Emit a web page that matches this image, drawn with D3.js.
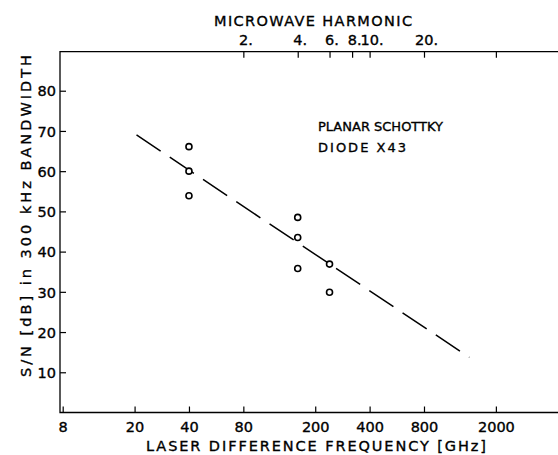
<!DOCTYPE html>
<html>
<head>
<meta charset="utf-8">
<script src="https://cdn.jsdelivr.net/npm/d3@7"></script>
<style>
  html, body { margin: 0; padding: 0; background: #fff; }
  svg { display: block; }
  text { font-family: "DejaVu Sans", sans-serif; fill: #000; stroke: #000; stroke-width: 0.35px; }
</style>
</head>
<body>
<svg id="chart" width="558" height="455"></svg>
<script>
// ---- data ----
const freqTicks = [8, 20, 40, 80, 200, 400, 800, 2000];          // GHz, bottom axis
const harmonicTicks = [2, 4, 6, 8, 10, 20, 50];                  // top axis
const harmonicLabels = ["2.", "4.", "6.", "8.", "10.", "20.", ""];
const microwaveFreq = 40;                                        // GHz per harmonic
const snTicks = [10, 20, 30, 40, 50, 60, 70, 80];                // dB
const pointFreq = [40, 40, 40, 160, 160, 160, 240, 240];         // GHz
const pointSN   = [66.1, 60.0, 53.9, 48.5, 43.5, 35.8, 36.9, 29.9]; // dB
const fitFreq = [20.5, 1426];
const fitSN   = [69.0, 13.7];

// ---- layout ----
const svg = d3.select("#chart");
const mLeft = 60, mRight = 559.5, mTop = 51.7, mBottom = 412.5;

const x = d3.scaleLog().domain([7.73, 4500]).range([mLeft, mRight]);
const xTop = d3.scaleLog().domain(x.domain().map(d => d / microwaveFreq)).range([mLeft, mRight]);
const y = d3.scaleLinear().domain([0, 89.7]).range([mBottom, mTop]);

const ink = "#000";

// frame
svg.append("path")
  .attr("d", `M558,${mTop}H${mLeft}V${mBottom}H558`)
  .attr("fill", "none").attr("stroke", ink).attr("stroke-width", 1.3);

// bottom axis
const gB = svg.append("g").attr("transform", `translate(0,${mBottom})`)
  .call(d3.axisBottom(x).tickValues(freqTicks).tickFormat(d3.format("d")).tickSize(-6).tickSizeOuter(0));
gB.select(".domain").remove();
gB.selectAll(".tick line").attr("stroke", ink).attr("stroke-width", 1.2);
gB.selectAll(".tick text").attr("y", 19).attr("dy", 0)
  .style("font-size", "14.5px").style("font-family", "DejaVu Sans, sans-serif").attr("fill", ink);

// top axis (microwave harmonic)
const gT = svg.append("g").attr("transform", `translate(0,${mTop})`)
  .call(d3.axisTop(xTop).tickValues(harmonicTicks)
    .tickFormat((d, i) => harmonicLabels[i]).tickSize(-6).tickSizeOuter(0));
gT.select(".domain").remove();
gT.selectAll(".tick line").attr("stroke", ink).attr("stroke-width", 1.2);
gT.selectAll(".tick text").attr("y", -6.7).attr("dy", 0).attr("dx", 2)
  .style("font-size", "14.5px").style("font-family", "DejaVu Sans, sans-serif").attr("fill", ink);

// left axis
const gL = svg.append("g").attr("transform", `translate(${mLeft},0)`)
  .call(d3.axisLeft(y).tickValues(snTicks).tickSize(-6).tickPadding(4).tickSizeOuter(0));
gL.select(".domain").remove();
gL.selectAll(".tick line").attr("stroke", ink).attr("stroke-width", 1.2);
gL.selectAll(".tick text").attr("dy", "0.36em")
  .style("font-size", "14.5px").style("font-family", "DejaVu Sans, sans-serif").attr("fill", ink);

// titles
svg.append("text").attr("x", 313).attr("y", 26).attr("text-anchor", "middle")
  .attr("textLength", 198).attr("lengthAdjust", "spacing")
  .style("font-size", "14.5px").text("MICROWAVE  HARMONIC");

svg.append("text").attr("x", 316).attr("y", 451).attr("text-anchor", "middle")
  .attr("textLength", 340).attr("lengthAdjust", "spacing")
  .style("font-size", "14.5px").text("LASER  DIFFERENCE  FREQUENCY  [GHz]");

svg.append("text").attr("transform", "translate(30.5,216) rotate(-90)")
  .attr("text-anchor", "middle")
  .attr("textLength", 322).attr("lengthAdjust", "spacing")
  .style("font-size", "14.5px").text("S/N [dB] in 300 kHz  BANDWIDTH");

// annotation
svg.append("text").attr("x", 318).attr("y", 130.7)
  .attr("textLength", 125).attr("lengthAdjust", "spacing")
  .style("font-size", "13px").text("PLANAR  SCHOTTKY");
svg.append("text").attr("x", 318).attr("y", 152.3)
  .attr("textLength", 88).attr("lengthAdjust", "spacing")
  .style("font-size", "13px").text("DIODE  X43");

// dashed fit line
svg.append("path")
  .datum(fitFreq.map((f, i) => [f, fitSN[i]]))
  .attr("d", d3.line().x(d => x(d[0])).y(d => y(d[1])))
  .attr("fill", "none").attr("stroke", ink).attr("stroke-width", 1.5)
  .attr("stroke-dasharray", "29,11");

// data points
svg.append("g").selectAll("circle")
  .data(pointFreq.map((f, i) => [f, pointSN[i]]))
  .join("circle")
  .attr("cx", d => x(d[0])).attr("cy", d => y(d[1]))
  .attr("r", 3).attr("fill", "#fff").attr("stroke", ink).attr("stroke-width", 1.6);
</script>
</body>
</html>
